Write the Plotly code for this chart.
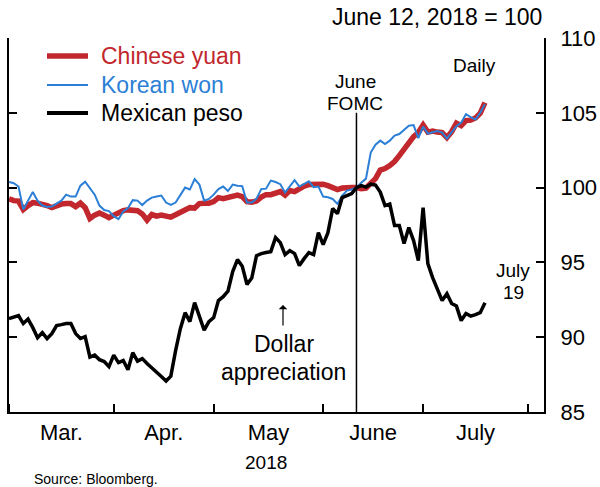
import numpy as np
import pandas as pd
import plotly.graph_objects as go

# ---------------- data (index, June 12, 2018 = 100), daily business days ----------------
dates = pd.bdate_range("2018-03-01", "2018-07-19")

yuan = [99.26, 99.13, 99.10, 98.53, 98.80, 99.00, 98.96, 98.90, 98.80, 98.66,
        98.80, 98.90, 98.93, 98.93, 98.73, 98.96, 98.66, 97.93, 98.16, 98.30,
        98.16, 97.99, 98.16, 98.33, 98.46, 98.51, 98.51, 98.46, 98.24, 97.83,
        98.20, 98.09, 98.16, 98.06, 98.03, 98.18, 98.36, 98.50, 98.66, 98.63,
        98.93, 98.96, 98.96, 99.06, 99.33, 99.26, 99.33, 99.43, 99.50, 99.40,
        99.06, 99.03, 99.10, 99.36, 99.53, 99.53, 99.67, 99.73, 99.50, 99.80,
        99.73, 99.93, 100.10, 100.20, 100.20, 100.23, 100.23, 100.13, 100.02, 99.87,
        99.97, 100.02, 100.00, 100.00, 99.93, 99.97, 100.27, 100.60, 101.17, 101.27,
        101.47, 101.74, 102.14, 102.61, 103.01, 103.41, 103.68, 104.18, 103.71, 103.78,
        103.71, 103.68, 103.34, 103.74, 104.31, 104.14, 104.48, 104.51, 104.65, 104.98,
        105.68]

won = [100.37, 100.29, 100.07, 98.53, 99.13, 99.70, 99.13, 98.80, 98.70, 98.73,
       98.93, 99.13, 99.53, 99.40, 99.40, 100.13, 100.40, 100.00, 99.53, 98.80,
       98.50, 98.43, 98.09, 97.89, 98.40, 98.63, 99.16, 99.13, 98.83, 99.13,
       99.33, 99.40, 99.47, 99.00, 98.84, 99.00, 99.47, 100.00, 99.87, 100.57,
       100.20, 99.13, 99.24, 99.53, 99.90, 100.07, 99.77, 100.20, 100.13, 100.10,
       99.00, 99.00, 99.26, 99.90, 99.93, 100.47, 100.37, 100.23, 99.67, 100.07,
       100.50, 100.07, 100.25, 100.42, 100.03, 100.07, 99.40, 99.35, 99.24, 98.91,
       99.47, 99.80, 99.87, 100.00, 100.33, 100.60, 102.34, 102.87, 103.14, 102.91,
       103.14, 103.48, 103.58, 103.84, 104.14, 104.18, 103.31, 104.08, 103.61, 103.70,
       103.78, 103.68, 103.28, 103.70, 104.11, 104.34, 104.91, 104.71, 104.55, 105.01,
       105.58]

peso = [91.24, 91.34, 91.44, 90.91, 91.21, 90.64, 89.97, 90.31, 89.91, 90.24,
        90.78, 90.84, 90.91, 90.91, 90.24, 89.91, 90.04, 88.67, 88.80, 88.50,
        88.37, 88.03, 88.80, 88.30, 88.44, 87.83, 88.97, 88.40, 88.57, 88.24,
        87.97, 87.70, 87.37, 87.07, 87.40, 89.10, 90.57, 91.64, 91.04, 92.31,
        91.44, 90.47, 91.04, 91.31, 92.45, 92.71, 93.08, 94.39, 95.19, 94.75,
        93.52, 93.95, 95.45, 95.59, 95.66, 95.72, 96.66, 96.32, 95.52, 95.79,
        95.59, 94.79, 95.25, 95.66, 95.52, 96.99, 96.19, 96.99, 98.60, 98.26,
        99.33, 99.47, 99.60, 100.00, 100.13, 100.03, 100.23, 100.17, 99.70, 98.80,
        98.90, 97.46, 97.46, 96.26, 97.33, 96.46, 95.12, 98.66, 94.92, 93.98,
        93.25, 92.45, 92.91, 92.25, 92.08, 91.11, 91.58, 91.41, 91.51, 91.64,
        92.31]

series_names = ["Chinese yuan", "Korean won", "Mexican peso"]
series_colors = ["#c1272d", "#2b7fd6", "#000000"]
series_widths = [5.5, 2.0, 3.5]

month_labels = ["Mar.", "Apr.", "May", "June", "July"]
y_ticks = [85, 90, 95, 100, 105, 110]
fomc_date = pd.Timestamp("2018-06-12")

# ---------------- business-day scale ----------------
calendar = pd.bdate_range("2018-03-01", "2018-08-31")
pos = {d: i for i, d in enumerate(calendar)}
x = [pos[d] for d in dates]
bounds = [i for i, d in enumerate(calendar) if i == 0 or d.month != calendar[i - 1].month][:6]
mids = [(bounds[i] + bounds[i + 1]) / 2 for i in range(5)]
fomc_x = pos[fomc_date]

# pixel -> paper helpers for annotation placement
L, R, T, B = 9, 544, 38, 412
def px(X):
    return (X - L) / (R - L)
def py(Y):
    return (B - Y) / (B - T)

FONT = "Liberation Sans, Arial, Helvetica, sans-serif"

fig = go.Figure()
for name, vals, col, w in zip(series_names, [yuan, won, peso], series_colors, series_widths):
    fig.add_trace(go.Scatter(x=x, y=vals, mode="lines", name=name,
                             customdata=[d.strftime("%Y-%m-%d") for d in dates],
                             hovertemplate="%{customdata}: %{y:.2f}<extra>" + name + "</extra>",
                             line=dict(color=col, width=w), showlegend=False))

shapes = [dict(type="line", xref="x", yref="y", x0=fomc_x, x1=fomc_x, y0=85, y1=105,
               line=dict(color="black", width=1.5))]
annotations = []

# custom legend (coloured text)
leg_y = [56, 85, 113]
leg_w = [5.5, 2.2, 4]
for name, col, yy, w in zip(series_names, series_colors, leg_y, leg_w):
    shapes.append(dict(type="line", xref="paper", yref="paper", x0=px(47), x1=px(88),
                       y0=py(yy), y1=py(yy), line=dict(color=col, width=w)))
    annotations.append(dict(text=name, xref="paper", yref="paper", x=px(99), y=py(yy),
                            xanchor="left", yanchor="middle", showarrow=False,
                            font=dict(size=23, color=col, family=FONT)))

def ann(text, X, Y, size=23, xanchor="center"):
    annotations.append(dict(text=text, xref="paper", yref="paper", x=px(X), y=py(Y),
                            xanchor=xanchor, yanchor="middle", showarrow=False,
                            font=dict(size=size, color="black", family=FONT)))

ann("June 12, 2018 = 100", 544, 17, 23, "right")
ann("June", 355, 81, 19)
ann("FOMC", 355, 103, 19)
ann("Daily", 474, 66, 19)
ann("July", 513, 270, 19)
ann("19", 513, 292, 19)
ann("Dollar", 284, 344, 23)
ann("appreciation", 283, 372, 23)
ann("2018", 266, 462, 19)
ann("Source: Bloomberg.", 32, 479, 14, "left")
annotations.append(dict(xref="paper", yref="paper", x=px(283), y=py(305),
                        ax=0, ay=22, axref="pixel", ayref="pixel",
                        text="", showarrow=True, arrowhead=1, arrowsize=1.2,
                        arrowwidth=1.2, arrowcolor="black"))

fig.update_layout(
    width=600, height=487,
    margin=dict(l=L, r=600 - R, t=T, b=487 - B, autoexpand=False),
    plot_bgcolor="white", paper_bgcolor="white",
    font=dict(family=FONT, size=23, color="black"),
    shapes=shapes, annotations=annotations, showlegend=False,
)
fig.update_xaxes(range=[0, 112.4], tickmode="array", tickvals=mids, ticktext=month_labels,
                 ticks="", showline=True, linecolor="black", linewidth=2,
                 showgrid=False, zeroline=False, tickfont=dict(size=22), automargin=False,
                 minor=dict(tickmode="array", tickvals=bounds, ticks="inside", ticklen=8,
                            tickwidth=1.5, tickcolor="black", showgrid=False))
fig.update_yaxes(range=[85, 110], side="right", tickmode="array", tickvals=y_ticks,
                 ticks="inside", ticklen=8, tickwidth=1.5, tickcolor="black",
                 showline=True, linecolor="black", linewidth=2, mirror="ticks",
                 showgrid=False, zeroline=False, tickfont=dict(size=22), automargin=False,
                 ticklabelstandoff=10)

fig.write_html("out.html", config={"displayModeBar": False},
               post_script="document.body.style.margin='0';document.body.style.overflow='hidden';")
